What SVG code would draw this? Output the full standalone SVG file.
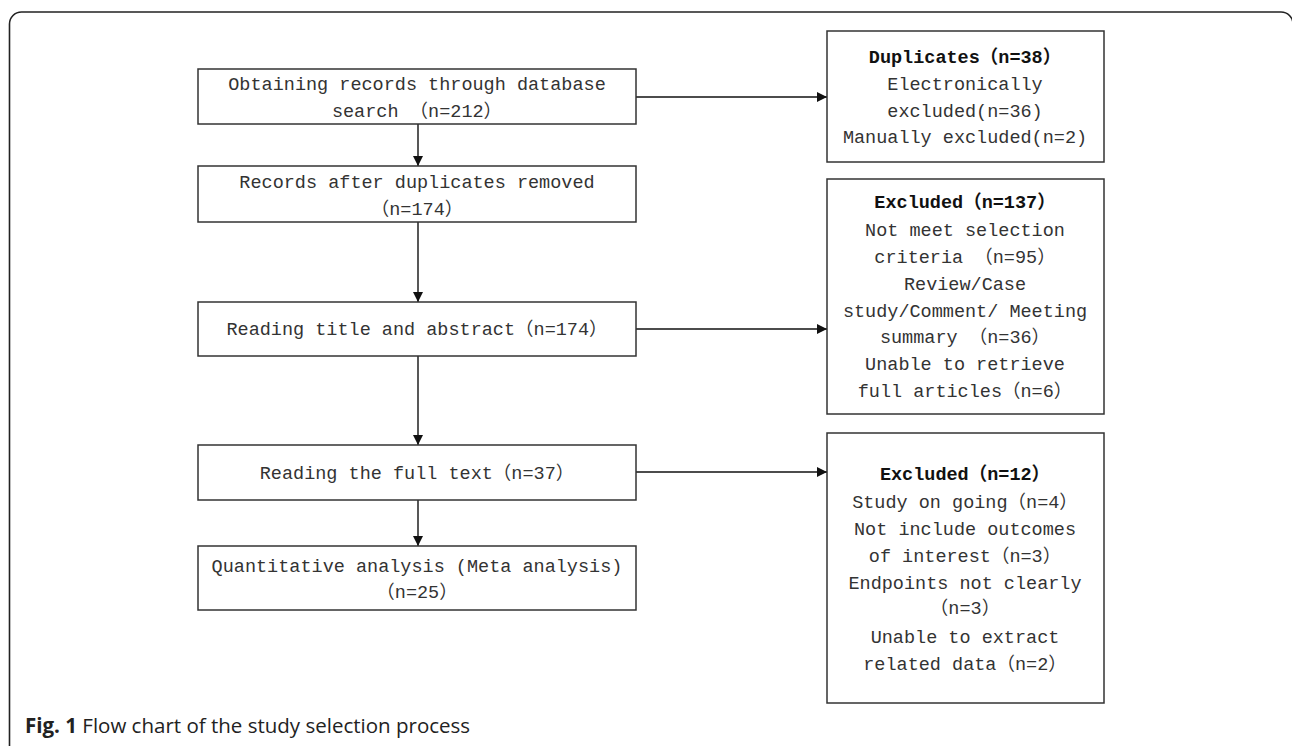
<svg xmlns="http://www.w3.org/2000/svg" width="1292" height="746" viewBox="0 0 1292 746">
<style>
.box{fill:#fff;stroke:#333;stroke-width:1.5}
.t{font-family:"Liberation Mono","Noto Sans CJK SC",monospace;font-size:18.5px;fill:#333;text-anchor:middle}
.b{font-weight:bold;fill:#111}
.line{stroke:#111;stroke-width:1.4;fill:none}
.cap{font-family:"Open Sans","Liberation Sans",sans-serif;font-size:20.5px;fill:#222}
</style>
<defs>
<marker id="ah" viewBox="0 0 10 10" refX="10" refY="5" markerWidth="10" markerHeight="10" markerUnits="userSpaceOnUse" orient="auto">
<path d="M0,0 L10,5 L0,10 z" fill="#111"/>
</marker>
</defs>
<path d="M9.5,746 V24 A12,12 0 0 1 21.5,12 H1281 A12,12 0 0 1 1293,24 V746" fill="none" stroke="#222" stroke-width="1.6"/>
<g id="connectors">
<line class="line" x1="418" y1="124" x2="418" y2="166" marker-end="url(#ah)"/>
<line class="line" x1="418" y1="222" x2="418" y2="302" marker-end="url(#ah)"/>
<line class="line" x1="418" y1="356" x2="418" y2="445" marker-end="url(#ah)"/>
<line class="line" x1="418" y1="500" x2="418" y2="546" marker-end="url(#ah)"/>
<line class="line" x1="636" y1="97" x2="827" y2="97" marker-end="url(#ah)"/>
<line class="line" x1="636" y1="329" x2="827" y2="329" marker-end="url(#ah)"/>
<line class="line" x1="636" y1="472" x2="827" y2="472" marker-end="url(#ah)"/>
</g>
<g id="n1">
<rect class="box" x="198" y="69" width="438" height="55"/>
<text class="t" x="417" y="90">Obtaining records through database</text>
<text class="t" x="417" y="117">search （n=212）</text>
</g>
<g id="n2">
<rect class="box" x="198" y="166" width="438" height="56"/>
<text class="t" x="417" y="188">Records after duplicates removed</text>
<text class="t" x="417" y="215">（n=174）</text>
</g>
<g id="n3">
<rect class="box" x="198" y="302" width="438" height="54"/>
<text class="t" x="417" y="335">Reading title and abstract（n=174）</text>
</g>
<g id="n4">
<rect class="box" x="198" y="445" width="438" height="55"/>
<text class="t" x="417" y="479">Reading the full text（n=37）</text>
</g>
<g id="n5">
<rect class="box" x="198" y="546" width="438" height="64"/>
<text class="t" x="417" y="572">Quantitative analysis (Meta analysis)</text>
<text class="t" x="417" y="598">（n=25）</text>
</g>
<g id="r1">
<rect class="box" x="827" y="31" width="277" height="131"/>
<text class="t b" x="965" y="63">Duplicates（n=38）</text>
<text class="t" x="965" y="90">Electronically</text>
<text class="t" x="965" y="117">excluded(n=36)</text>
<text class="t" x="965" y="143">Manually excluded(n=2)</text>
</g>
<g id="r2">
<rect class="box" x="827" y="179" width="277" height="235"/>
<text class="t b" x="965" y="208">Excluded（n=137）</text>
<text class="t" x="965" y="236">Not meet selection</text>
<text class="t" x="965" y="263">criteria （n=95）</text>
<text class="t" x="965" y="290">Review/Case</text>
<text class="t" x="965" y="317">study/Comment/ Meeting</text>
<text class="t" x="965" y="343">summary （n=36）</text>
<text class="t" x="965" y="370">Unable to retrieve</text>
<text class="t" x="965" y="397">full articles（n=6）</text>
</g>
<g id="r3">
<rect class="box" x="827" y="433" width="277" height="270"/>
<text class="t b" x="965" y="480">Excluded（n=12）</text>
<text class="t" x="965" y="508">Study on going（n=4）</text>
<text class="t" x="965" y="535">Not include outcomes</text>
<text class="t" x="965" y="562">of interest（n=3）</text>
<text class="t" x="965" y="589">Endpoints not clearly</text>
<text class="t" x="965" y="614">（n=3）</text>
<text class="t" x="965" y="643">Unable to extract</text>
<text class="t" x="965" y="670">related data（n=2）</text>
</g>
<text class="cap" x="25" y="733"><tspan font-weight="bold">Fig. 1</tspan> Flow chart of the study selection process</text>
</svg>
